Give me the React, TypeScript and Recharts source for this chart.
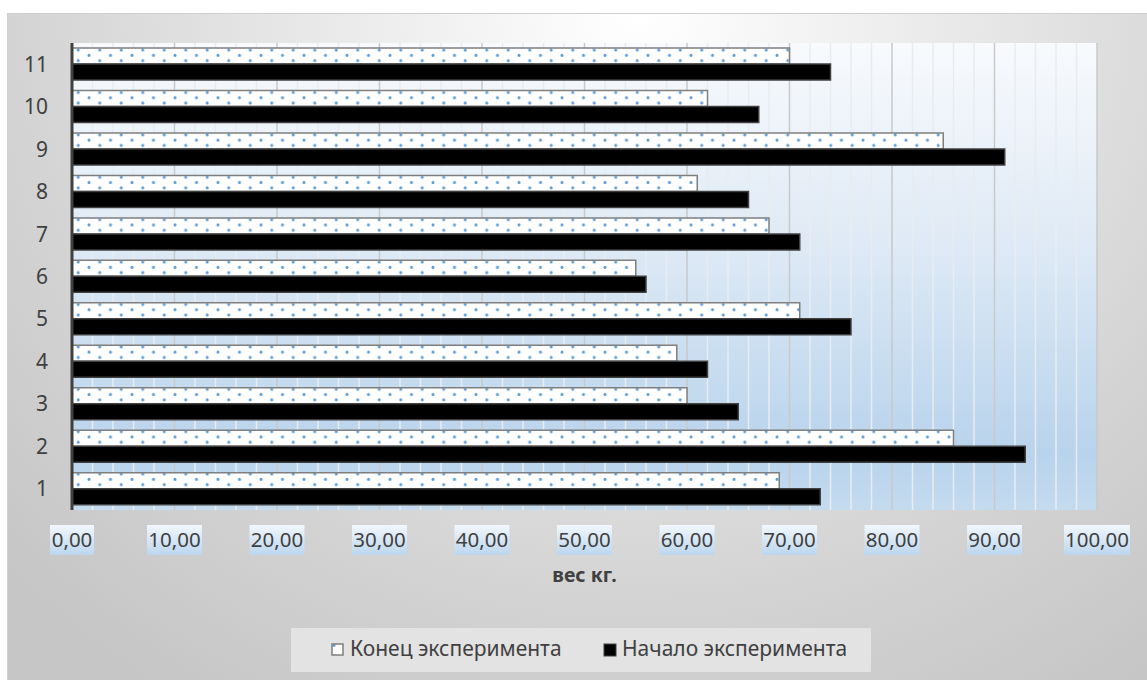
import { BarChart, Bar, XAxis, YAxis, CartesianGrid, Legend, Label } from 'recharts'

const categories = ['1', '2', '3', '4', '5', '6', '7', '8', '9', '10', '11']
const endValues = [69, 86, 60, 59, 71, 55, 68, 61, 85, 62, 70]
const startValues = [73, 93, 65, 62, 76, 56, 71, 66, 91, 67, 74]
const xTicks = [0, 10, 20, 30, 40, 50, 60, 70, 80, 90, 100]
const minorTicks = [
  2, 4, 6, 8, 12, 14, 16, 18, 22, 24, 26, 28, 32, 34, 36, 38, 42, 44, 46, 48, 52, 54, 56, 58, 62, 64, 66, 68, 72, 74,
  76, 78, 82, 84, 86, 88, 92, 94, 96, 98,
]
const X_MAX = 100

const END_NAME = 'Конец эксперимента'
const START_NAME = 'Начало эксперимента'

const data = categories.map((cat, i) => ({ cat, end: endValues[i], start: startValues[i] }))

const FONT = "'Noto Sans', 'DejaVu Sans', sans-serif"

const fmt = (v: number) => v.toFixed(2).replace('.', ',')

// maps axis values onto the plot area for the grid lines
const gridAt = (values: number[]) => ({ offset }: any) =>
  values.map((v) => offset.left + (v / X_MAX) * offset.width)

function XTick(props: any) {
  const { x, y, payload } = props
  const text = fmt(payload.value)
  const w = text.length * 11
  return (
    <g>
      <rect x={x - w / 2} y={y + 7} width={w} height={30} fill="url(#tickBg)" />
      <text x={x} y={y + 29} textAnchor="middle" fill="#404040" fontSize={20.5} fontFamily={FONT}>
        {text}
      </text>
    </g>
  )
}

function LegendBox() {
  return (
    <div
      style={{
        width: 580,
        height: 44,
        background: '#e3e3e3',
        fontFamily: FONT,
        fontSize: 21,
        color: '#404040',
        position: 'relative',
      }}
    >
      <svg width={14} height={14} style={{ position: 'absolute', left: 40, top: 15 }}>
        <rect x={1} y={1} width={11} height={11} fill="url(#dots)" stroke="#7f7f7f" strokeWidth={1.5} />
      </svg>
      <span style={{ position: 'absolute', left: 59, top: 6, whiteSpace: 'nowrap' }}>{END_NAME}</span>
      <svg width={14} height={14} style={{ position: 'absolute', left: 312, top: 15 }}>
        <rect x={1} y={1} width={12} height={12} fill="#000" stroke="#404040" strokeWidth={1} />
      </svg>
      <span style={{ position: 'absolute', left: 331, top: 6, whiteSpace: 'nowrap' }}>{START_NAME}</span>
    </div>
  )
}

export default function App() {
  return (
    <div style={{ position: 'absolute', left: 0, top: 0, width: 1147, height: 680, background: '#fff', overflow: 'hidden' }}>
      <div
        style={{
          position: 'absolute',
          left: 7,
          top: 13,
          width: 1145,
          height: 672,
          borderTop: '1px solid #cfcfcf',
          borderLeft: '1px solid #cfcfcf',
          background: 'radial-gradient(ellipse 75% 120% at 55% 0%, #ffffff 0%, #e4e4e4 45%, #d2d2d2 75%, #c6c6c6 100%)',
        }}
      />
      <div style={{ position: 'absolute', left: 0, top: 0 }}>
        <BarChart
          width={1147}
          height={680}
          data={data}
          layout="vertical"
          margin={{ top: 43, right: 50, left: 12, bottom: 140 }}
          barCategoryGap="12%"
          barGap={0}
          style={{ fontFamily: FONT }}
        >
          <defs>
            <linearGradient id="plotBg" x1="0" y1="0" x2="0" y2="1">
              <stop offset="0%" stopColor="#f8fafd" />
              <stop offset="45%" stopColor="#dde9f5" />
              <stop offset="88%" stopColor="#b8d3ec" />
              <stop offset="100%" stopColor="#c4dbef" />
            </linearGradient>
            <linearGradient id="tickBg" x1="0" y1="0" x2="0" y2="1">
              <stop offset="0%" stopColor="#f2f7fc" />
              <stop offset="100%" stopColor="#bcd6ee" />
            </linearGradient>
            <pattern id="dots" patternUnits="userSpaceOnUse" width={21.5} height={10.6}>
              <rect width={21.5} height={10.6} fill="#ffffff" />
              <circle cx={3} cy={2.3} r={1.5} fill="#5b9bd5" />
              <circle cx={13.75} cy={7.6} r={1.5} fill="#5b9bd5" />
            </pattern>
          </defs>
          <CartesianGrid
            horizontal={false}
            fill="url(#plotBg)"
            fillOpacity={1}
            stroke="#e9ecef"
            strokeWidth={1.5}
            verticalCoordinatesGenerator={gridAt(minorTicks)}
          />
          <CartesianGrid
            horizontal={false}
            stroke="#c9c9c9"
            strokeWidth={1.5}
            verticalCoordinatesGenerator={gridAt(xTicks)}
          />
          <XAxis
            type="number"
            domain={[0, X_MAX]}
            ticks={xTicks}
            height={30}
            axisLine={false}
            tickLine={false}
            tick={<XTick />}
            interval={0}
          >
            <Label
              value="вес кг."
              position="bottom"
              offset={28}
              fill="#404040"
              fontSize={19.5}
              fontWeight="bold"
              fontFamily={FONT}
            />
          </XAxis>
          <YAxis
            type="category"
            dataKey="cat"
            reversed
            width={60}
            tickLine={false}
            tickSize={0}
            tickMargin={24}
            axisLine={{ stroke: '#404040', strokeWidth: 3 }}
            tick={{ fill: '#404040', fontSize: 21, fontFamily: FONT }}
            interval={0}
          />
          <Legend
            layout="vertical"
            align="center"
            verticalAlign="middle"
            wrapperStyle={{ left: 291, top: 628, width: 580, height: 44 }}
            content={() => <LegendBox />}
          />
          <Bar dataKey="end" name={END_NAME} fill="url(#dots)" stroke="#7f7f7f" strokeWidth={1.5} isAnimationActive={false} />
          <Bar dataKey="start" name={START_NAME} fill="#000000" stroke="#404040" strokeWidth={1.5} isAnimationActive={false} />
        </BarChart>
      </div>
    </div>
  )
}
